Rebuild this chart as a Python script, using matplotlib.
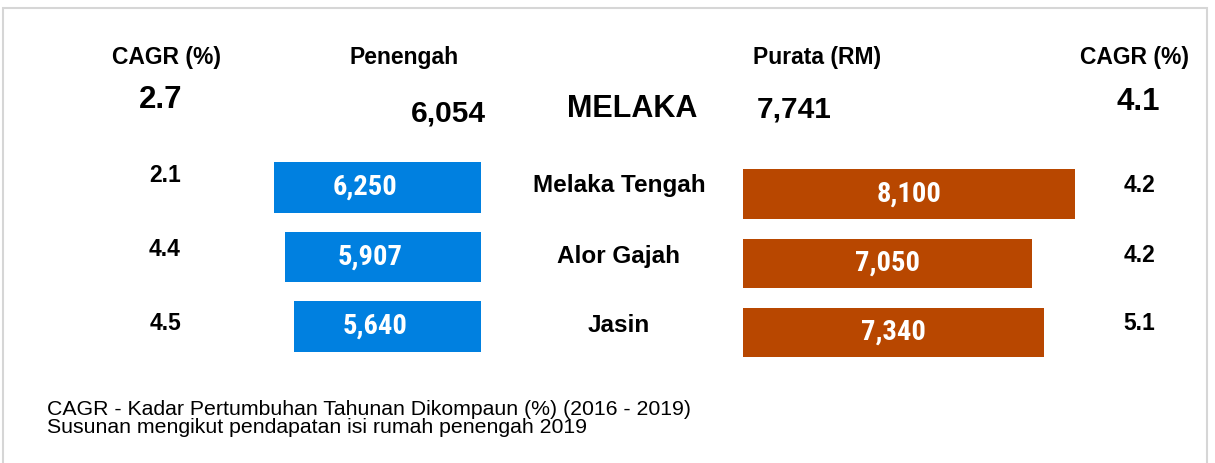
import matplotlib
matplotlib.use("Agg")
import matplotlib.pyplot as plt
from matplotlib import font_manager
from matplotlib.patches import Rectangle

# ---- data ----
districts = ["Melaka Tengah", "Alor Gajah", "Jasin"]
median_income = [6250, 5907, 5640]
mean_income = [8100, 7050, 7340]
cagr_median = [2.1, 4.4, 4.5]
cagr_mean = [4.2, 4.2, 5.1]
state_name = "MELAKA"
state_median = 6054
state_mean = 7741
state_cagr_median = 2.7
state_cagr_mean = 4.1
footnotes = ["CAGR - Kadar Pertumbuhan Tahunan Dikompaun (%) (2016 - 2019)",
             "Susunan mengikut pendapatan isi rumah penengah 2019"]

W, H = 1215, 463
BLUE = "#0080E0"
ORANGE = "#B84700"

names = {f.name for f in font_manager.fontManager.ttflist}
NARROW = "DejaVu Sans"
for cand in ["Arial Narrow", "Liberation Sans Narrow", "Roboto Condensed",
             "PT Sans Narrow", "Archivo Narrow", "Barlow Condensed", "Asap Condensed"]:
    if cand in names:
        NARROW = cand
        break
plt.rcParams["font.family"] = ["Liberation Sans", "DejaVu Sans"]

fig = plt.figure(figsize=(W / 100, H / 100), dpi=100)
fig.patch.set_facecolor("white")


def fx(x):
    return x / W


def fy(y):
    return 1 - y / H


def axes_px(left, top, right, bottom):
    return fig.add_axes([fx(left), fy(bottom), (right - left) / W, (bottom - top) / H])


# border
fig.patches.append(Rectangle((fx(3), fy(470)), fx(1207) - fx(3), fy(8) - fy(470),
                             transform=fig.transFigure, fill=False,
                             edgecolor="#D6D6D6", linewidth=1.5))

ypos = list(range(len(districts)))
lab_kw = dict(ha="center", va="center", color="white", fontsize=20.5,
              fontweight="bold", family=[NARROW, "DejaVu Sans"],
              fontstretch="condensed")

# left (median) bars, growing leftwards from x=481 px
sc_l = 0.0332
xmax_l = 7000
axL = axes_px(481 - xmax_l * sc_l, 187.5 - 0.54 * 69.5, 481, 326.5 + 0.54 * 69.5)
axL.barh(ypos, median_income, height=0.72, color=BLUE)
axL.set_xlim(xmax_l, 0)
axL.set_ylim(2.54, -0.54)
axL.axis("off")
for yi, v in zip(ypos, median_income):
    axL.annotate(f"{v:,}", (v / 2, yi), xytext=(-9, 0), textcoords="offset points",
                 **lab_kw)

# right (mean) bars, growing rightwards from x=743 px
sc_r = 0.041
xmax_r = 9000
axR = axes_px(743, 194 - 0.54 * 69.25, 743 + xmax_r * sc_r, 332.5 + 0.54 * 69.25)
axR.barh(ypos, mean_income, height=0.71, color=ORANGE)
axR.set_xlim(0, xmax_r)
axR.set_ylim(2.54, -0.54)
axR.axis("off")
for yi, v in zip(ypos, mean_income):
    axR.annotate(f"{v:,}", (v / 2, yi), **lab_kw)

# headers
hdr = dict(fontsize=16.5, fontweight="bold", va="baseline", color="black")
fig.text(fx(166), fy(64), "CAGR (%)", ha="center", **hdr)
fig.text(fx(404), fy(64), "Penengah", ha="center", **hdr)
fig.text(fx(817), fy(64), "Purata (RM)", ha="center", **hdr)
fig.text(fx(1134), fy(64), "CAGR (%)", ha="center", **hdr)

# state row
fig.text(fx(161), fy(108), f"{state_cagr_median}", ha="center", va="baseline",
         fontsize=22.5, fontweight="bold")
fig.text(fx(486), fy(121), f"{state_median:,}", ha="right", va="baseline",
         fontsize=21.5, fontweight="bold")
fig.text(fx(632), fy(117), state_name, ha="center", va="baseline",
         fontsize=22, fontweight="bold")
fig.text(fx(757), fy(118), f"{state_mean:,}", ha="left", va="baseline",
         fontsize=21.5, fontweight="bold")
fig.text(fx(1138), fy(110), f"{state_cagr_mean}", ha="center", va="baseline",
         fontsize=22.5, fontweight="bold")

# district rows
left_cagr_y = [175, 249.5, 323]
name_y = [186, 256, 325]
right_cagr_y = [186, 255, 323]
for i, d in enumerate(districts):
    fig.text(fx(165), fy(left_cagr_y[i]), f"{cagr_median[i]}", ha="center",
             va="center", fontsize=16.5, fontweight="bold")
    fig.text(fx(619), fy(name_y[i]), d, ha="center", va="center",
             fontsize=17.5, fontweight="bold")
    fig.text(fx(1139), fy(right_cagr_y[i]), f"{cagr_mean[i]}", ha="center",
             va="center", fontsize=16.5, fontweight="bold")

# footnotes
fig.text(fx(47), fy(415), footnotes[0], ha="left", va="baseline", fontsize=15.3)
fig.text(fx(47), fy(433), footnotes[1], ha="left", va="baseline", fontsize=15.3)

fig.savefig("out.png", dpi=100, facecolor="white")
